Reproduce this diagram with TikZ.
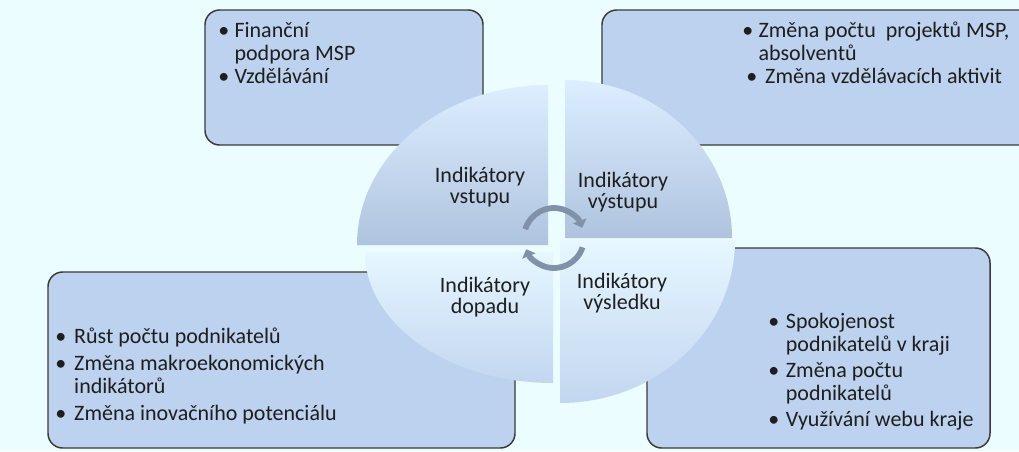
\documentclass[tikz,border=0pt]{standalone}
\usepackage{fontspec}
\setmainfont{Carlito}
\usetikzlibrary{arrows.meta}
\definecolor{bg}{HTML}{EBFDFF}
\definecolor{boxfill}{HTML}{BCD2EE}
\definecolor{boxline}{HTML}{3A3A3A}
\definecolor{pietop}{HTML}{DCEEFF}
\definecolor{piebot}{HTML}{AFC3DF}
\definecolor{pietopb}{HTML}{E6F7FF}
\definecolor{piebotb}{HTML}{C2D6F0}
\definecolor{cyc}{HTML}{8191A8}
\definecolor{txt}{HTML}{1E1E1E}
\begin{document}
\begin{tikzpicture}[x=0.75pt,y=-0.75pt,
  box/.style={draw=boxline,fill=boxfill,line width=1.1pt,rounded corners=11pt},
  list/.style={anchor=base west,inner sep=0pt,text=txt,font=\fontsize{16.5}{17.4}\selectfont},
  pielabel/.style={align=center,inner sep=0pt,text=txt,font=\fontsize{16.5}{15.5}\selectfont},
  cyclearrow/.style={draw=cyc,line width=4.3pt,-{Triangle[width=10.5pt,length=5.5pt]}}]
  \useasboundingbox (0,0) rectangle (1019,451);
  \clip (0,0) rectangle (1019,451);
  \fill[bg] (0,0) rectangle (1019,451);
  \draw[box] (205,10) rectangle (483,145);
  \draw[box] (602,10) rectangle (1040,145);
  \draw[box] (48,272) rectangle (515,448);
  \draw[box] (647,248) rectangle (990,448);
  \shade[top color=pietop,bottom color=piebot] (548,245) -- ++(-191,0)
    arc[start angle=180,end angle=270,x radius=191,y radius=160] -- cycle;
  \shade[top color=pietop,bottom color=piebot] (565,238) -- ++(0,-158)
    arc[start angle=270,end angle=360,x radius=167,y radius=158] -- cycle;
  \shade[top color=pietopb,bottom color=piebotb] (560,240) -- ++(175,0)
    arc[start angle=0,end angle=90,x radius=175,y radius=163] -- cycle;
  \shade[top color=pietopb,bottom color=piebotb] (553,252) -- ++(0,131)
    arc[start angle=90,end angle=180,x radius=188,y radius=131] -- cycle;
  \node[pielabel] (vstup) at (480,187) {Indikátory\\vstupu};
  \node[pielabel] (vystup) at (623,192) {Indikátory\\výstupu};
  \node[pielabel] (dopad) at (485,297) {Indikátory\\dopadu};
  \node[pielabel] (vysledek) at (622,293) {Indikátory\\výsledku};
  \coordinate (mid) at (554,238);
  \draw[cyclearrow] (mid) ++(197:30) arc[start angle=197,end angle=340,radius=30];
  \draw[cyclearrow] (mid) ++(18:30) arc[start angle=18,end angle=158,radius=30];
  \node[list] (vstupy) at (218,37) {\begin{tabular}[t]{@{}l@{\hspace{4pt}}l@{}}
    •&Finanční\\ &podpora\ MSP\\ •&Vzdělávání\end{tabular}};
  \node[list] (vystupy) at (742,37) {\begin{tabular}[t]{@{}l@{\hspace{4pt}}l@{}}
    •&Změna počtu\ \ projektů MSP,\\ &absolventů\\
    \rlap{\hspace{3pt}•}&\hspace{5pt}Změna vzdělávacích aktivit\end{tabular}};
  \node[list] (dopady) at (55,343) {\begin{tabular}[t]{@{}l@{\hspace{6pt}}l@{}}
    •&Růst počtu podnikatelů\\[3pt] •&Změna makroekonomických\\ &indikátorů\\[3pt]
    •&Změna inovačního potenciálu\end{tabular}};
  \node[list] (vysledky) at (768,328) {\begin{tabular}[t]{@{}l@{\hspace{5pt}}l@{}}
    •&Spokojenost\\ &podnikatelů v kraji\\[2pt] •&Změna počtu\\ &podnikatelů\\[2pt]
    •&Využívání webu kraje\end{tabular}};
\end{tikzpicture}
\end{document}
